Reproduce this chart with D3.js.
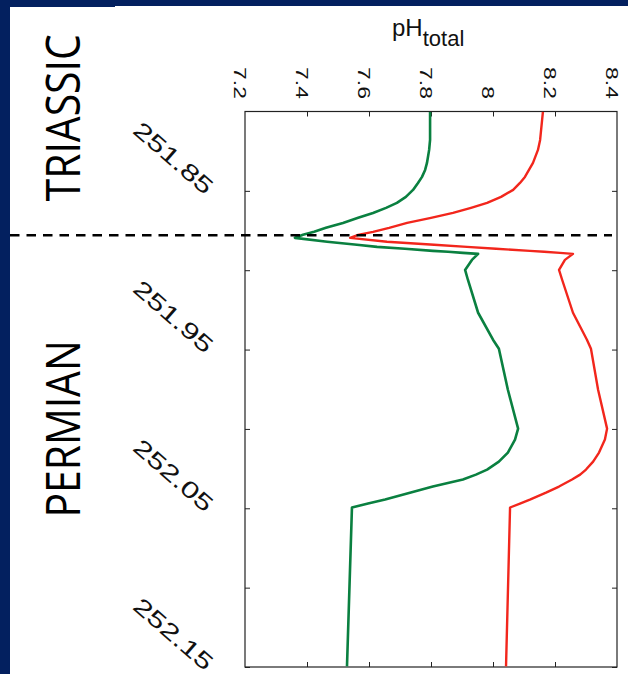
<!DOCTYPE html>
<html>
<head>
<meta charset="utf-8">
<script src="https://cdn.jsdelivr.net/npm/d3@7"></script>
<style>
  html, body { margin: 0; padding: 0; background: #ffffff; }
  svg { display: block; }
</style>
</head>
<body>
<svg id="chart" width="628" height="674"></svg>
<script>
// ---------- data ----------
const ages = [251.8003, 251.8179, 251.8242, 251.8324, 251.8368, 251.8412, 251.8450, 251.8494, 251.8538, 251.8576,
              251.8607, 251.8639, 251.8670, 251.8702, 251.8733, 251.8758, 251.8777, 251.8796, 251.8821, 251.8840,
              251.8853, 251.8865, 251.8878, 251.8884, 251.8891, 251.8897, 251.8935, 251.8998, 251.9060, 251.9268,
              251.9438, 251.9495, 251.9753, 251.9998, 252.0067, 252.0149, 252.0206, 252.0256, 252.0288, 252.0319,
              252.0363, 252.0401, 252.0445, 252.0470, 252.0495, 252.1496];
const greenPH = [7.797, 7.797, 7.794, 7.787, 7.781, 7.771, 7.758, 7.742, 7.719, 7.690,
                 7.655, 7.613, 7.565, 7.516, 7.461, 7.423, 7.387, 7.361, 7.465, 7.561,
                 7.626, 7.716, 7.806, 7.855, 7.903, 7.952, 7.932, 7.910, 7.919, 7.952,
                 8.000, 8.019, 8.048, 8.081, 8.071, 8.048, 8.019, 7.981, 7.945, 7.903,
                 7.806, 7.735, 7.652, 7.597, 7.545, 7.529];
const redPH   = [8.161, 8.152, 8.145, 8.129, 8.116, 8.103, 8.087, 8.065, 8.026, 7.981,
                 7.929, 7.871, 7.800, 7.723, 7.665, 7.613, 7.565, 7.539, 7.658, 7.810,
                 7.916, 8.010, 8.119, 8.165, 8.216, 8.258, 8.232, 8.213, 8.223, 8.258,
                 8.303, 8.316, 8.339, 8.368, 8.361, 8.342, 8.323, 8.300, 8.281, 8.255,
                 8.213, 8.171, 8.119, 8.087, 8.055, 8.042];
const ageTicks = [251.85, 251.90, 251.95, 252.00, 252.05, 252.10, 252.15];
const ageTickLabels = [251.85, 251.95, 252.05, 252.15];
const phTicks = [7.4, 7.6, 7.8, 8.0, 8.2];
const phTickLabels = [7.2, 7.4, 7.6, 7.8, 8.0, 8.2, 8.4];
const boundaryAge = 251.878;
const periodNames = ["TRIASSIC", "PERMIAN"];
const periodCenters = [251.804, 252.000];

// ---------- layout ----------
const W = 628, H = 674;
const plot = { left: 245, right: 617, top: 111.5, bottom: 667 };
const navy = "#03205f";
const sans = "'Liberation Sans', Arial, Helvetica, sans-serif";

const svg = d3.select("#chart");

// navy frame
svg.append("rect").attr("x", 0).attr("y", 0).attr("width", W).attr("height", H).attr("fill", navy);
svg.append("rect").attr("x", 10).attr("y", 7).attr("width", 105).attr("height", H - 7).attr("fill", "#ffffff");
svg.append("rect").attr("x", 115).attr("y", 6).attr("width", W - 115).attr("height", H - 6).attr("fill", "#ffffff");

const x = d3.scaleLinear().domain([7.2, 8.4]).range([plot.left, plot.right]);
const y = d3.scaleLinear().domain([251.80, 252.15]).range([plot.top, plot.bottom]);

// axes with inward ticks
const tickStyle = g => {
  g.select(".domain").remove();
  g.selectAll("line").attr("stroke", "#222").attr("stroke-width", 1);
  g.selectAll("text").remove();
};
svg.append("g").attr("transform", `translate(0,${plot.top})`)
  .call(d3.axisTop(x).tickValues(phTicks).tickSize(-5).tickFormat("")).call(tickStyle);
svg.append("g").attr("transform", `translate(0,${plot.bottom})`)
  .call(d3.axisBottom(x).tickValues(phTicks).tickSize(-5).tickFormat("")).call(tickStyle);
svg.append("g").attr("transform", `translate(${plot.left},0)`)
  .call(d3.axisLeft(y).tickValues(ageTicks).tickSize(-5).tickFormat("")).call(tickStyle);
svg.append("g").attr("transform", `translate(${plot.right},0)`)
  .call(d3.axisRight(y).tickValues(ageTicks).tickSize(-5).tickFormat("")).call(tickStyle);

// plot frame
svg.append("rect")
  .attr("x", plot.left).attr("y", plot.top)
  .attr("width", plot.right - plot.left).attr("height", plot.bottom - plot.top)
  .attr("fill", "none").attr("stroke", "#222").attr("stroke-width", 1.2);

// pH tick labels (rotated 90, stretched along the text)
const fmtPH = d => (d === 8 ? "8" : d3.format(".1f")(d));
svg.append("g").selectAll("text").data(phTickLabels).join("text")
  .attr("transform", d => `translate(${x(d) - 11},99) rotate(90) scale(1.35,1)`)
  .attr("text-anchor", "end")
  .attr("font-family", sans)
  .attr("font-size", 17)
  .attr("fill", "#111")
  .text(fmtPH);

// pH_total title
const title = svg.append("text")
  .attr("x", 392).attr("y", 36)
  .attr("font-family", sans)
  .attr("fill", "#111");
title.append("tspan").attr("font-size", 24).text("pH");
title.append("tspan").attr("font-size", 22).attr("dy", 10).text("total");

// age tick labels (rotated ~41°, stretched along the text)
svg.append("g").selectAll("text").data(ageTickLabels).join("text")
  .attr("transform", d => `translate(${plot.left - 35},${y(d) - 1}) rotate(41) scale(1.38,1)`)
  .attr("text-anchor", "end")
  .attr("dominant-baseline", "central")
  .attr("font-family", sans)
  .attr("font-size", 23)
  .attr("fill", "#111")
  .text(d => d3.format(".2f")(d));

// lines
const line = vals => d3.line()
  .x((d, i) => x(vals[i]))
  .y(d => y(d))
  .curve(d3.curveLinear)(ages);

svg.append("path").attr("d", line(greenPH))
  .attr("fill", "none").attr("stroke", "#0a8040").attr("stroke-width", 2.6)
  .attr("stroke-linejoin", "round");
svg.append("path").attr("d", line(redPH))
  .attr("fill", "none").attr("stroke", "#f2261c").attr("stroke-width", 2.4)
  .attr("stroke-linejoin", "round");

// boundary dashed line
svg.append("line")
  .attr("x1", 10).attr("x2", 612)
  .attr("y1", y(boundaryAge)).attr("y2", y(boundaryAge))
  .attr("stroke", "#000").attr("stroke-width", 2.6)
  .attr("stroke-dasharray", "9.5,7");

// period labels
svg.append("g").selectAll("text").data(periodNames).join("text")
  .attr("transform", (d, i) => `translate(80,${y(periodCenters[i])}) rotate(-90) scale(0.87,1)`)
  .attr("text-anchor", "middle")
  .attr("font-family", "'Open Sans', 'Noto Sans', sans-serif")
  .attr("font-size", 47)
  .attr("fill", "#000")
  .text(d => d);
</script>
</body>
</html>
